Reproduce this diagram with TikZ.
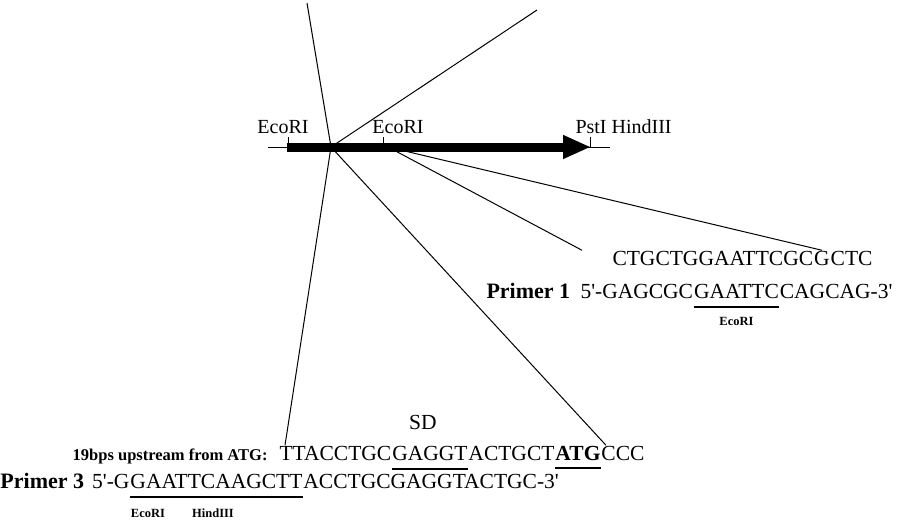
\documentclass[tikz,border=0pt]{standalone}
\usepackage{fontspec}
\setmainfont{Liberation Serif}
\usetikzlibrary{positioning,arrows.meta}
\newcommand\prm{\textquotesingle}
\tikzset{
  seq/.style={inner sep=0pt,anchor=base west,font=\fontsize{21.5}{24}\selectfont},
  site/.style={inner sep=0pt,anchor=base,font=\fontsize{20}{24}\selectfont},
  tag/.style={inner sep=0pt,anchor=base,font=\bfseries\fontsize{12.5}{14}\selectfont},
  primer/.style={inner sep=0pt,anchor=base west,font=\bfseries\fontsize{22}{24}\selectfont},
  uline/.style={line width=1.2pt},
}
\begin{document}
\begin{tikzpicture}[x=1pt,y=-1pt,line width=1pt]
  \useasboundingbox (0,0) rectangle (904,523);
  % vector with insert
  \coordinate (tl) at (307,3);
  \coordinate (tr) at (537,10);
  \coordinate (hub) at (331,147);
  \coordinate (hubb) at (388,147);
  \coordinate (vl) at (268,147);
  \coordinate (vr) at (610,147);
  \coordinate (barl) at (287,147);
  \coordinate (tip) at (591,147);

  % sequence near EcoRI site
  \node[seq] (s1a) at (612,265) {CTGCTGGAATTCGC};
  \node[seq] (s1g) at (s1a.base east) {G};
  \node[seq] (s1b) at (s1g.base east) {CTC};
  \coordinate[left=30pt of s1a.north west] (s1end);

  % primer 1
  \node[primer] (p1) at (486,298) {Primer 1};
  \node[seq] (p1a) at (580,298) {5\prm-GAGCGC};
  \node[seq] (p1eco) at (p1a.base east) {GAATTC};
  \node[seq] (p1b) at (p1eco.base east) {CAGCAG-3\prm};
  \draw[uline] ([yshift=-9pt]p1eco.base west) -- ([yshift=-9pt]p1eco.base east);
  \node[tag,below=19pt of p1eco.base] (p1tag) {EcoRI};

  % upstream of ATG
  \node[tag,anchor=base east,font=\bfseries\fontsize{16.5}{18}\selectfont] (up) at (268,460) {19bps upstream from ATG:};
  \node[seq] (s3a) at (279,460) {TTACCTGC};
  \node[seq] (s3sd) at (s3a.base east) {GAGGT};
  \node[seq] (s3b) at (s3sd.base east) {ACTGCT};
  \node[seq,font=\bfseries\fontsize{21.5}{24}\selectfont] (s3atg) at (s3b.base east) {ATG};
  \node[seq] (s3c) at (s3atg.base east) {CCC};
  \draw[uline] ([yshift=-9pt]s3sd.base west) -- ([yshift=-9pt]s3sd.base east);
  \draw[uline,line width=2pt] ([yshift=-8pt]s3atg.base west) -- ([yshift=-8pt]s3atg.base east);
  \node[site,font=\fontsize{21.5}{24}\selectfont] (sd) at ([xshift=-7pt,yshift=31pt]s3sd.base) {SD};

  % primer 3
  \node[primer] (p3) at (0,488) {Primer 3};
  \node[seq] (p3a) at ([xshift=7pt]p3.base east) {5\prm-G};
  \node[seq] (p3site) at (p3a.base east) {GAATTCAAGCTT};
  \node[seq] (p3b) at (p3site.base east) {ACCTGCGAGGTACTGC-3\prm};
  \draw[uline] ([yshift=-9pt]p3site.base west) -- ([yshift=-9pt]p3site.base east);
  \node[tag] (p3eco) at (148,517) {EcoRI};
  \node[tag] (p3hind) at (213,517) {HindIII};

  % fan of lines
  \draw (tl) -- (hub) -- (tr);
  \draw (hub) -- ([xshift=6pt]s3a.north west);
  \draw (hub) -- ([xshift=5pt]s3c.north west);
  \draw (hubb) -- (s1end);
  \draw (hubb) -- (s1g.north);

  % vector bar
  \draw (vl) -- (vr);
  \draw[line width=9pt,-{Triangle[length=28pt,width=22pt]}] (barl) -- (tip);
  \foreach \x in {288,383,590}
    \draw (\x,147) -- (\x,137);
  \node[site] (eco1) at (283,133) {EcoRI};
  \node[site] (eco2) at (398,133) {EcoRI};
  \node[site,anchor=base west] (pst) at (575,133) {PstI HindIII};
\end{tikzpicture}
\end{document}
